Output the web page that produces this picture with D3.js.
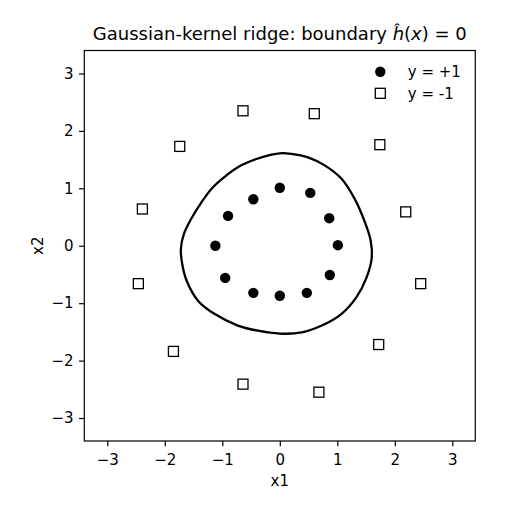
<!DOCTYPE html>
<html lang="en">
<head>
<meta charset="UTF-8">
<title>Gaussian-kernel ridge</title>
<style>
    body { margin: 0; background: white; }
</style>
</head>
<body>
<div id="chart"></div>
<script src="https://d3js.org/d3.v7.min.js"></script>
<script>
    // class +1 points (inner ring)
    const posX = [0.00, 0.53, 0.86, 1.01, 0.87, 0.47, 0.00, -0.46, -0.95, -1.12, -0.90, -0.46];
    const posY = [1.01, 0.92, 0.48, 0.01, -0.51, -0.82, -0.87, -0.82, -0.56, 0.00, 0.52, 0.81];

    // class -1 points (outer ring)
    const negX = [-0.64, -1.74, -2.39, 0.60, 1.74, 2.19, -2.46, -1.85, -0.64, 2.45, 1.72, 0.68];
    const negY = [2.35, 1.73, 0.64, 2.30, 1.76, 0.59, -0.66, -1.84, -2.41, -0.66, -1.72, -2.55];

    // decision boundary h(x)=0
    const boundX = [0.00, 0.20, 0.49, 0.78, 1.07, 1.30, 1.48, 1.58, 1.60, 1.51, 1.33, 1.07, 0.73, 0.38, 0.00,
        -0.38, -0.73, -1.13, -1.42, -1.62, -1.70, -1.72, -1.67, -1.54, -1.36, -1.19, -0.96, -0.67, -0.32];
    const boundY = [1.61, 1.60, 1.54, 1.40, 1.17, 0.82, 0.41, 0.09, -0.20, -0.55, -0.90, -1.19, -1.39, -1.51, -1.53,
        -1.48, -1.39, -1.19, -0.96, -0.61, -0.30, -0.05, 0.20, 0.47, 0.76, 0.99, 1.20, 1.40, 1.54];

    const ticks = [-3, -2, -1, 0, 1, 2, 3];
    const domain = [-3.4, 3.4];

    const width = 505, height = 505;
    const plot = { left: 84.3, right: 475.3, top: 50.5, bottom: 441 };
    const font = "DejaVu Sans";
    const tickFont = 15;

    const svg = d3.select("#chart").append("svg")
        .attr("width", width)
        .attr("height", height)
        .attr("font-family", font);

    const x = d3.scaleLinear().domain(domain).range([plot.left, plot.right]);
    const y = d3.scaleLinear().domain(domain).range([plot.bottom, plot.top]);

    function styleAxis(g) {
        g.attr("font-family", font).attr("font-size", tickFont);
        g.select(".domain").remove();
        g.selectAll(".tick line").attr("stroke", "black").attr("stroke-width", 1.2);
        g.selectAll(".tick text").attr("fill", "black");
    }

    // axes
    svg.append("g")
        .attr("transform", `translate(0,${plot.bottom})`)
        .call(d3.axisBottom(x).tickValues(ticks).tickSize(5.25).tickPadding(8.5).tickFormat(d3.format("d")))
        .call(styleAxis);

    svg.append("g")
        .attr("transform", `translate(${plot.left},0)`)
        .call(d3.axisLeft(y).tickValues(ticks).tickSize(5.25).tickPadding(5.5).tickFormat(d3.format("d")))
        .call(styleAxis);

    // boundary curve
    const boundary = boundX.map((v, i) => [v, boundY[i]]);
    svg.append("path")
        .datum(boundary)
        .attr("d", d3.line().x(d => x(d[0])).y(d => y(d[1])).curve(d3.curveCatmullRomClosed.alpha(0.5)))
        .attr("fill", "none")
        .attr("stroke", "black")
        .attr("stroke-width", 2.3);

    // points
    svg.selectAll("circle.pos")
        .data(posX.map((v, i) => [v, posY[i]]))
        .enter()
        .append("circle")
        .attr("class", "pos")
        .attr("cx", d => x(d[0]))
        .attr("cy", d => y(d[1]))
        .attr("r", 5.2)
        .attr("fill", "black");

    const sq = 10;
    svg.selectAll("rect.neg")
        .data(negX.map((v, i) => [v, negY[i]]))
        .enter()
        .append("rect")
        .attr("class", "neg")
        .attr("x", d => x(d[0]) - sq / 2)
        .attr("y", d => y(d[1]) - sq / 2)
        .attr("width", sq)
        .attr("height", sq)
        .attr("fill", "white")
        .attr("stroke", "black")
        .attr("stroke-width", 1.3);

    // frame
    svg.append("rect")
        .attr("x", plot.left)
        .attr("y", plot.top)
        .attr("width", plot.right - plot.left)
        .attr("height", plot.bottom - plot.top)
        .attr("fill", "none")
        .attr("stroke", "black")
        .attr("stroke-width", 1.2);

    // labels
    svg.append("text")
        .attr("x", (plot.left + plot.right) / 2)
        .attr("y", 486)
        .attr("text-anchor", "middle")
        .attr("font-size", tickFont)
        .text("x1");

    svg.append("text")
        .attr("transform", `translate(42.5,${(plot.top + plot.bottom) / 2}) rotate(-90)`)
        .attr("text-anchor", "middle")
        .attr("font-size", tickFont)
        .text("x2");

    const title = svg.append("text")
        .attr("x", (plot.left + plot.right) / 2)
        .attr("y", 40)
        .attr("text-anchor", "middle")
        .attr("font-size", 18);
    title.append("tspan").text("Gaussian-kernel ridge: boundary ");
    title.append("tspan").attr("font-style", "italic").text("ĥ");
    title.append("tspan").text("(");
    title.append("tspan").attr("font-style", "italic").text("x");
    title.append("tspan").text(") = 0");

    // legend
    const legendItems = [
        { label: "y = +1", shape: "circle" },
        { label: "y = -1", shape: "square" }
    ];
    const legend = svg.append("g").attr("transform", "translate(380.3,71.7)");
    legendItems.forEach((item, i) => {
        const row = legend.append("g").attr("transform", `translate(0,${i * 21.6})`);
        if (item.shape === "circle") {
            row.append("circle").attr("r", 5.2).attr("fill", "black");
        } else {
            row.append("rect")
                .attr("x", -sq / 2).attr("y", -sq / 2)
                .attr("width", sq).attr("height", sq)
                .attr("fill", "white").attr("stroke", "black").attr("stroke-width", 1.3);
        }
        row.append("text")
            .attr("x", 27.5)
            .attr("y", 5.3)
            .attr("font-size", tickFont)
            .text(item.label);
    });
</script>
</body>
</html>
